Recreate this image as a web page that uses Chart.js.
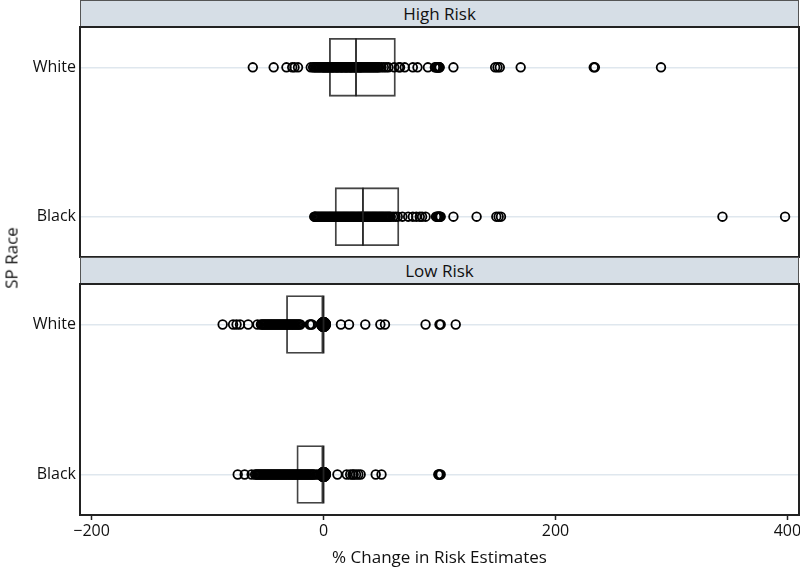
<!DOCTYPE html>
<html>
<head>
<meta charset="utf-8">
<script src="https://cdn.jsdelivr.net/npm/chart.js@4.4.0/dist/chart.umd.min.js"></script>
<style>
  body { margin: 0; background: #fff; font-family: "Open Sans", sans-serif; }
  #wrap { position: relative; width: 800px; height: 567px; overflow: hidden; }
  .strip { position: absolute; left: 80px; width: 719px; height: 28px; box-sizing: border-box;
           background: #d6dee6; border: 1px solid #555; text-align: center;
           font-size: 17px; line-height: 25px; color: #111; }
  canvas { position: absolute; left: 0; }
  #ytitle { position: absolute; left: 11px; top: 258px; transform: translate(-50%, -50%) rotate(-90deg);
            font-size: 17px; white-space: nowrap; color: #111; }
</style>
</head>
<body>
<div id="wrap">
  <div class="strip" style="top:0">High Risk</div>
  <canvas id="high" width="800" height="232" style="top:26px"></canvas>
  <div class="strip" style="top:257px">Low Risk</div>
  <canvas id="low" width="800" height="284" style="top:283px"></canvas>
  <div id="ytitle">SP Race</div>
</div>
<script>
// categories and ticks
var races = ["White", "Black"];
var xTicks = [-200, 0, 200, 400];

// % change values
var highWhite = [-61, -43, -32, -27, -25, -22, -11, -9, -8, -7, -6, -5, -4, -3, -2, -1, 0,
  0.5, 1, 2, 3, 3.5, 4, 5, 6, 7, 7.5, 8, 9, 10, 11, 11.5, 12, 13, 14, 15, 15.5, 16, 17, 18,
  19, 19.5, 20, 21, 22, 23, 23.5, 24, 25, 26, 27, 27.5, 28, 29, 30, 31, 31.5, 32, 33, 34,
  35, 36, 37, 38, 39, 40, 41, 42, 43, 44, 45, 46, 47, 48, 50, 52, 54, 56, 61, 65, 66, 70,
  77, 81, 90, 96, 97, 97.5, 98, 98.5, 99, 99.5, 100, 100, 112, 148, 150, 152, 170, 233,
  234, 291];
var highBlack = [-8, -7.5, -7, -6, -5, -4, -3, -2, -1, 0, 1, 2, 3, 4, 5, 6, 7, 8, 9, 10, 11,
  12, 13, 14, 15, 16, 17, 18, 19, 20, 21, 22, 23, 24, 25, 26, 27, 28, 29, 30, 31, 32, 33,
  33.5, 34, 35, 36, 37, 38, 39, 40, 41, 42, 43, 44, 45, 46, 47, 48, 49, 50, 51, 52, 53, 54,
  55, 56, 57, 58, 60, 62, 64, 68, 73, 77, 80, 83, 85, 88, 97, 98, 98.5, 99, 99.5, 100,
  100.5, 101, 112, 132, 149, 151, 153, 344, 398];
var lowWhite = [-87, -78, -75, -72, -65, -57, -54, -53, -52, -51, -50, -49, -48, -47, -46,
  -45, -44, -43, -42, -41, -40, -39, -38, -37, -36, -35, -34, -33, -32, -31, -30, -29, -28,
  -27, -26, -25, -24, -23, -22, -21, -20, -12, -11, -10, 0, 0, 0, 0, 15, 22, 36, 49, 53,
  88, 100, 101, 114];
var lowBlack = [-74, -68, -62, -59, -58, -57, -56, -55, -54, -53, -52, -51, -50, -49, -48,
  -47, -46, -45, -44, -43, -42, -41, -40, -39, -38, -37, -36, -35, -34, -33, -32, -31, -30,
  -29, -28, -27, -26, -25, -24, -23, -22, -21, -20, -19, -18, -17, -16, -15, -14, -13, -12,
  -11, -10, -9, -8, -6, -4, -2, 0, 0, 0, 0, 12, 20, 23, 25, 26, 28, 30, 32, 45, 50, 99,
  99.5, 100, 101];

// box stats, [White, Black]
var highQ1 = [5, 10], highMedian = [28, 34], highQ3 = [62, 65];
var lowQ1 = [-32, -23], lowMedian = [0, 0], lowQ3 = [0, 0];

var frame = {
  id: "frame",
  afterDraw: function (chart) {
    var a = chart.chartArea, c = chart.ctx;
    c.save();
    c.strokeStyle = "#222";
    c.lineWidth = 2;
    c.strokeRect(a.left, a.top, a.right - a.left, a.bottom - a.top);
    c.restore();
  }
};

function pts(vals, row) {
  return vals.map(function (v) { return { x: v, y: row }; });
}

function makePanel(id, white, black, q1, med, q3, bottom) {
  var bigZero = function (ctx) { return bottom && ctx.raw && ctx.raw.x === 0; };
  new Chart(document.getElementById(id), {
    type: "scatter",
    data: {
      datasets: [
        {
          label: "points",
          data: pts(white, 0).concat(pts(black, 1)),
          pointRadius: function (ctx) { return bigZero(ctx) ? 6.5 : 4.3; },
          pointBackgroundColor: function (ctx) { return bigZero(ctx) ? "#000" : "rgba(0,0,0,0)"; },
          pointBorderColor: "#000",
          pointBorderWidth: 1.8,
          order: 1
        },
        {
          type: "bar",
          label: "box",
          indexAxis: "y",
          data: [{ y: 0, x: [q1[0], q3[0]] }, { y: 1, x: [q1[1], q3[1]] }],
          barThickness: 58,
          backgroundColor: "rgba(0,0,0,0)",
          borderColor: "#444",
          borderWidth: 1.2,
          borderSkipped: false,
          order: 2
        },
        {
          label: "median",
          data: [{ x: med[0], y: 0 }, { x: med[1], y: 1 }],
          pointStyle: "line",
          rotation: 90,
          pointRadius: 29,
          pointBorderColor: "#222",
          pointBorderWidth: 1.8,
          order: 0
        }
      ]
    },
    options: {
      responsive: false,
      animation: false,
      events: [],
      layout: { autoPadding: false, padding: { top: 1, right: 1, bottom: bottom ? 0 : 1 } },
      plugins: { legend: { display: false }, tooltip: { enabled: false } },
      scales: {
        x: {
          type: "linear",
          min: -210,
          max: 410,
          offset: false,
          display: bottom,
          afterBuildTicks: function (s) { s.ticks = xTicks.map(function (v) { return { value: v }; }); },
          afterFit: function (s) { s.height = bottom ? 52 : 0; s.paddingLeft = 0; s.paddingRight = 0; },
          grid: { offset: false, drawOnChartArea: false, drawTicks: true, tickLength: 5, tickColor: "#222", tickWidth: 1.5 },
          border: { display: false },
          ticks: {
            color: "#111",
            padding: 2,
            font: { family: "Open Sans", size: 16 },
            callback: function (v) { return v < 0 ? "\u2212" + Math.abs(v) : v; }
          },
          title: {
            display: true,
            text: "% Change in Risk Estimates",
            color: "#111",
            padding: 0,
            font: { family: "Open Sans", size: 17, lineHeight: 1.0 }
          }
        },
        y: {
          type: "linear",
          reverse: true,
          min: -0.27,
          max: 1.27,
          offset: false,
          afterBuildTicks: function (s) { s.ticks = [{ value: 0 }, { value: 1 }]; },
          afterFit: function (s) { s.width = 80; s.paddingTop = 0; s.paddingBottom = 0; },
          grid: { offset: false, color: "#dfe7ee", lineWidth: 1.5, drawTicks: false },
          border: { display: false },
          ticks: {
            color: "#111",
            padding: 4,
            font: { family: "Open Sans", size: 16 },
            callback: function (v) { return races[v]; }
          }
        }
      }
    },
    plugins: [frame]
  });
}

makePanel("high", highWhite, highBlack, highQ1, highMedian, highQ3, false);
makePanel("low", lowWhite, lowBlack, lowQ1, lowMedian, lowQ3, true);
</script>
</body>
</html>
